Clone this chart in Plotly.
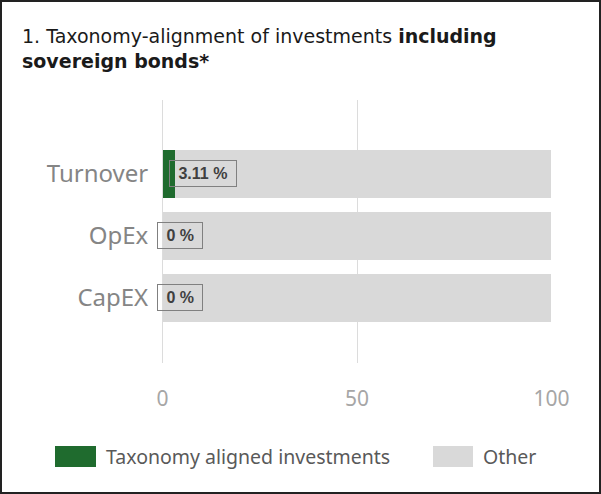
import plotly.graph_objects as go

categories = ["Turnover", "OpEx", "CapEX"]
aligned = [3.11, 0, 0]
other = [96.89, 100, 100]
label_texts = ["3.11 %", "0 %", "0 %"]
series_names = ["Taxonomy aligned investments", "Other"]
colors = ["#1f6b2e", "#d9d9d9"]

W, H = 601, 494
L, R, T, B = 162, 49, 100, 131
pw, ph = W - L - R, H - T - B

def px_x(p):
    return (p - L) / pw

def px_y(p):
    return 1 - (p - T) / ph

fig = go.Figure()
fig.add_trace(go.Bar(y=categories, x=aligned, orientation="h", name=series_names[0],
                     marker=dict(color=colors[0], line=dict(width=0)), showlegend=False,
                     hoverinfo="x+y"))
fig.add_trace(go.Bar(y=categories, x=other, orientation="h", name=series_names[1],
                     marker=dict(color=colors[1], line=dict(width=0)), showlegend=False,
                     hoverinfo="x+y"))

for cat, v, t in zip(categories, aligned, label_texts):
    fig.add_annotation(x=v, y=cat, xref="x", yref="y", text="&nbsp;<b>" + t + "</b>&nbsp;",
                       showarrow=False, xanchor="left", xshift=-6,
                       font=dict(family="Liberation Sans", size=16, color="#404040"),
                       bordercolor="#808080", borderwidth=1, borderpad=4, bgcolor="rgba(0,0,0,0)")

# legend (manual)
leg_y = 456
swatches = [(55, 96, 106), (433, 473, 483)]
for (x0, x1, tx), name, c in zip(swatches, series_names, colors):
    fig.add_shape(type="rect", xref="paper", yref="paper",
                  x0=px_x(x0), x1=px_x(x1), y0=px_y(leg_y + 11), y1=px_y(leg_y - 10),
                  line=dict(width=0), fillcolor=c)
    fig.add_annotation(xref="paper", yref="paper", x=px_x(tx - 2), y=px_y(leg_y),
                       text=name, showarrow=False, xanchor="left", yanchor="middle",
                       font=dict(family="Noto Sans", size=19.5, color="#595959"))

# outer frame
fig.add_shape(type="rect", xref="paper", yref="paper",
              x0=px_x(1), x1=px_x(W - 1), y0=px_y(H - 1), y1=px_y(1),
              line=dict(color="#222222", width=2), fillcolor="rgba(0,0,0,0)")

fig.update_layout(
    width=W, height=H,
    margin=dict(l=L, r=R, t=T, b=B),
    barmode="stack", bargap=0.23,
    paper_bgcolor="white", plot_bgcolor="white",
    title=dict(text="1. Taxonomy-alignment of investments <b>including</b><br><b>sovereign bonds*</b>",
               x=22 / W, xanchor="left", y=1 - 43 / H, yanchor="top", xref="container", yref="container",
               font=dict(family="DejaVu Sans", size=19, color="#1a1a1a")),
    xaxis=dict(range=[-0.15, 100.15], tickvals=[0, 50, 100], showgrid=True, gridcolor="#dcdcdc",
               gridwidth=1, zeroline=True, zerolinecolor="#dcdcdc", zerolinewidth=1, showline=False,
               ticks="outside", ticklen=17, tickcolor="rgba(0,0,0,0)",
               tickfont=dict(family="Noto Sans", size=21, color="#a6a6a6"), fixedrange=True),
    yaxis=dict(categoryorder="array", categoryarray=categories, range=[3.05, -1.19],
               showgrid=False, zeroline=False, showline=False,
               ticks="outside", ticklen=8, tickcolor="rgba(0,0,0,0)",
               tickfont=dict(family="Noto Sans", size=24, color="#858585"), fixedrange=True),
)

fig.write_html("out.html", post_script="document.body.style.margin='0';",
               config={"displayModeBar": False})
